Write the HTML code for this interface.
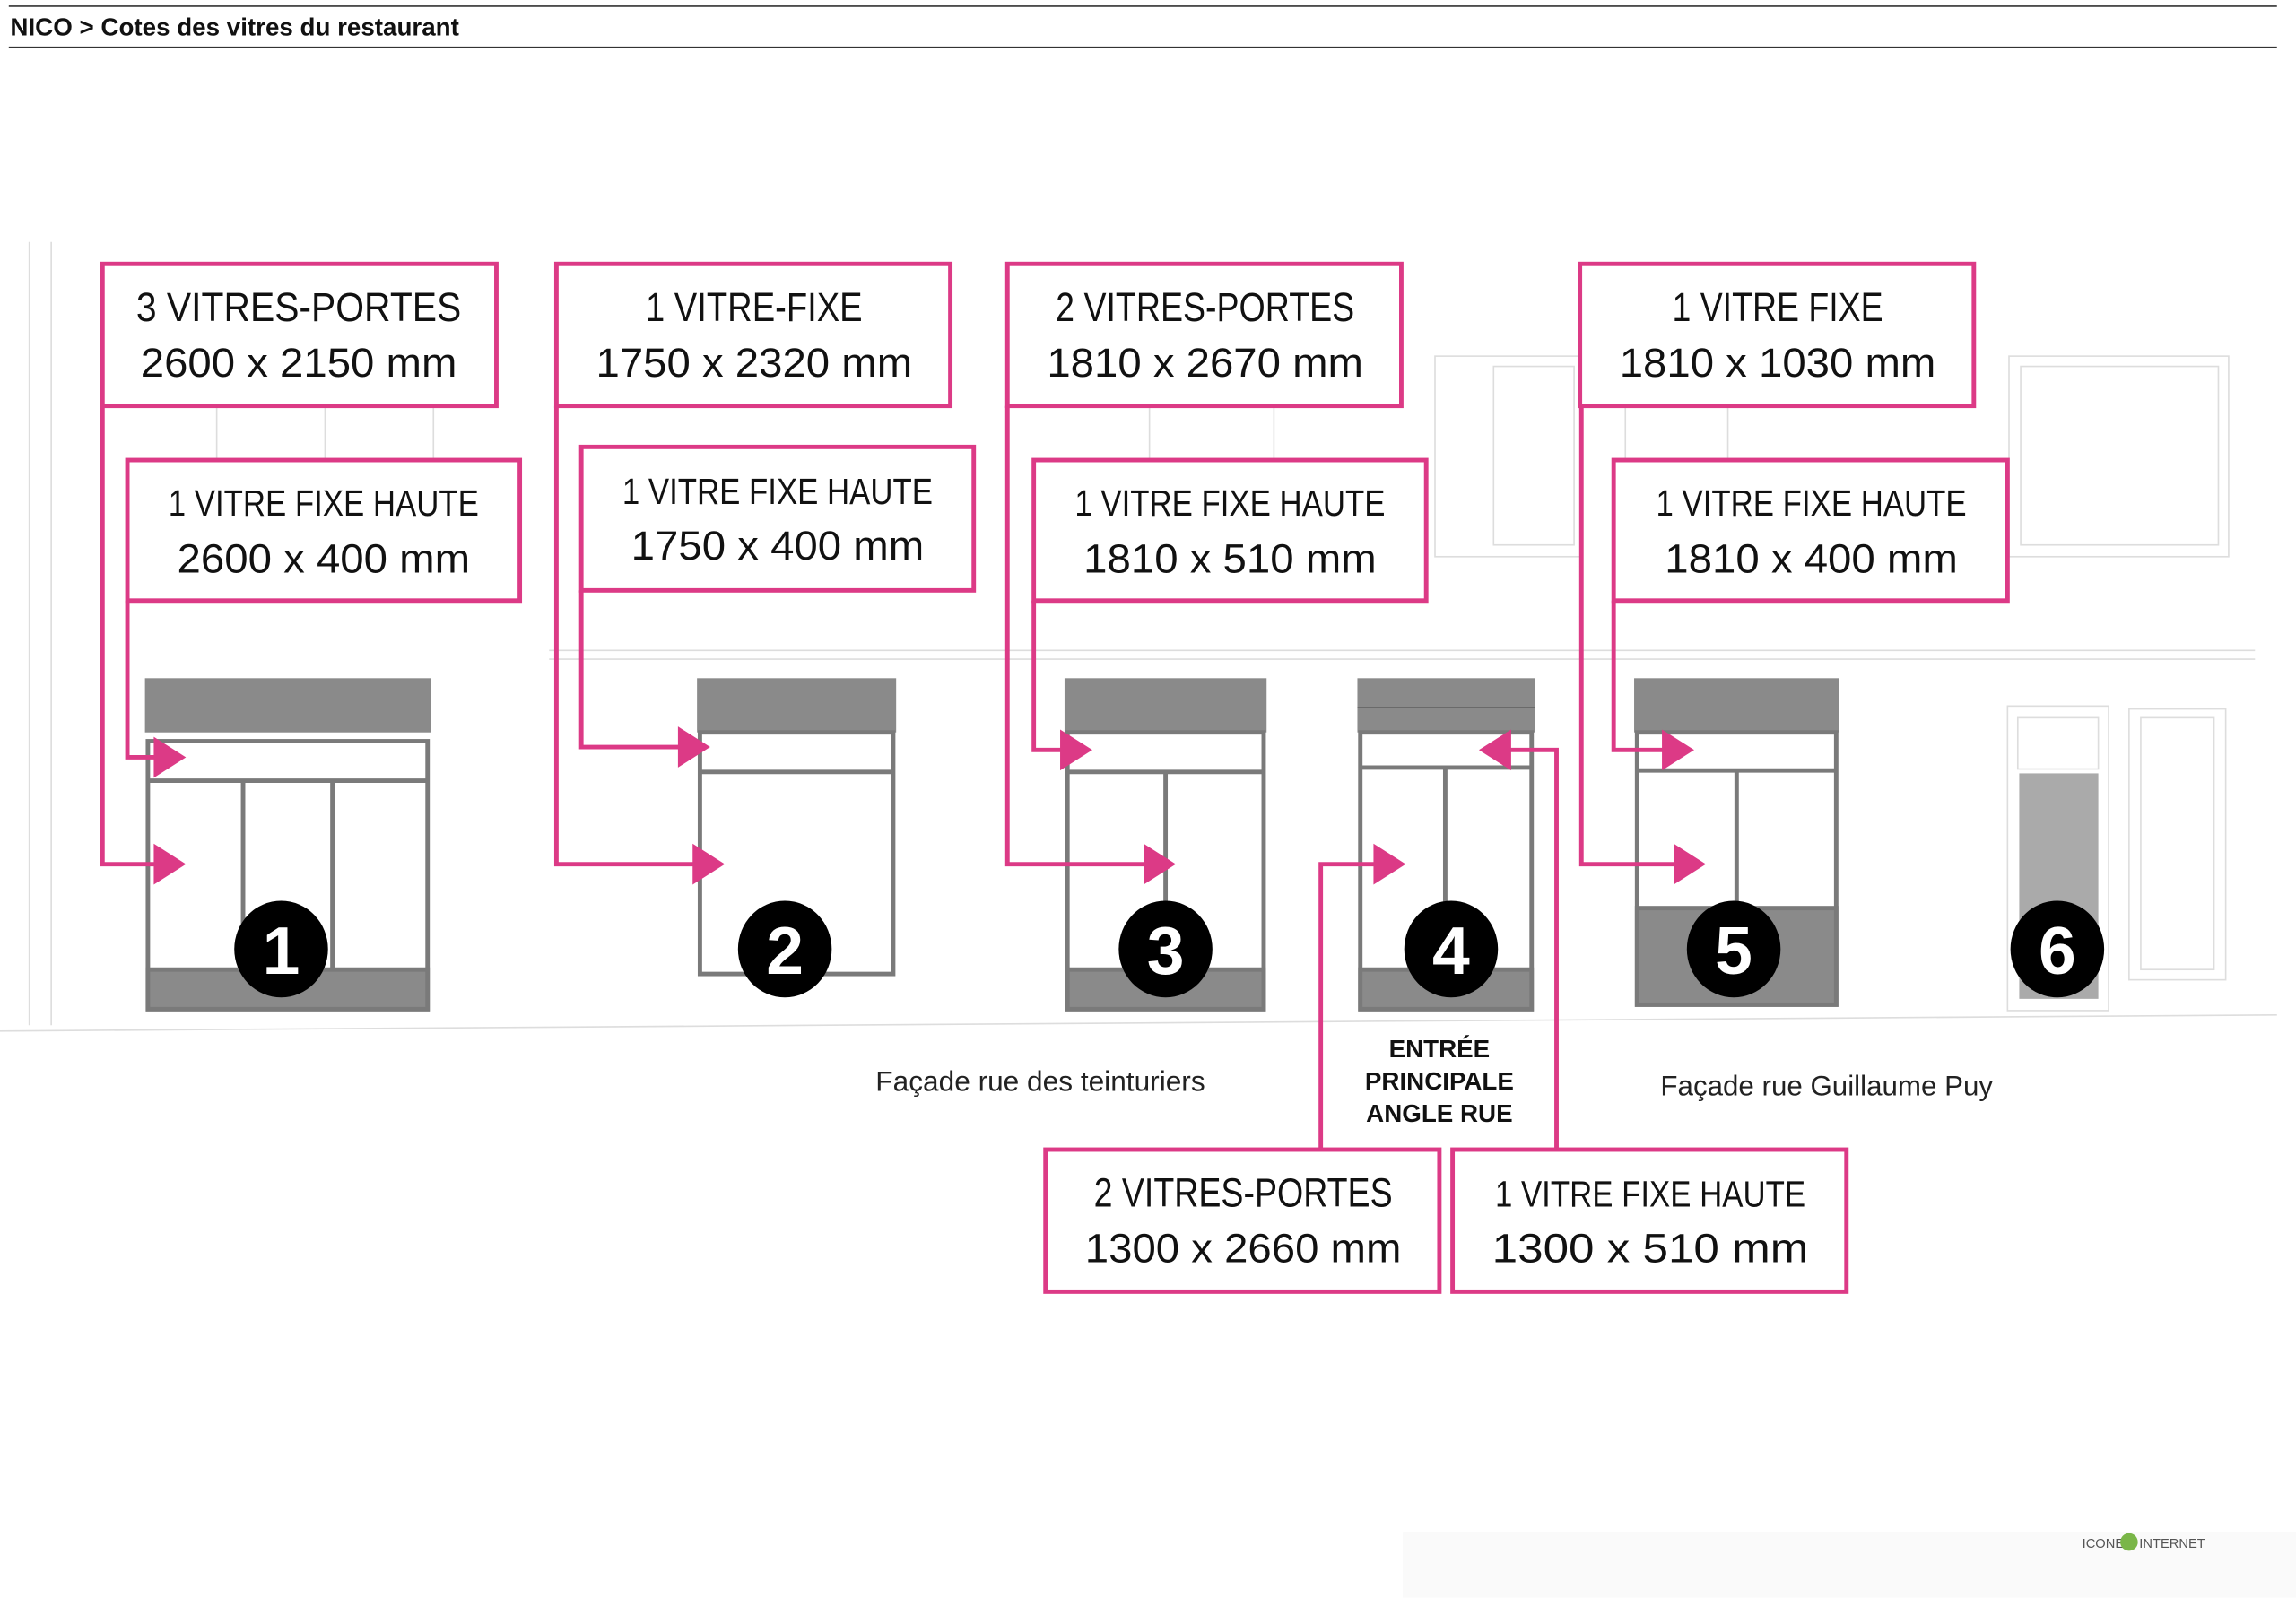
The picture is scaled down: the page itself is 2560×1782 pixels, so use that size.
<!DOCTYPE html>
<html><head><meta charset="utf-8"><style>html,body{margin:0;padding:0;background:#fff}svg{display:block}</style></head>
<body>
<svg width="2560" height="1782" viewBox="0 0 1568 1091" xmlns="http://www.w3.org/2000/svg" font-family="'Liberation Sans', sans-serif">
<rect width="1568" height="1091" fill="#fff"/>
<line x1="6" y1="4" x2="1555" y2="4" stroke="#333" stroke-width="1"/>
<line x1="6" y1="32" x2="1555" y2="32" stroke="#333" stroke-width="1"/>
<text x="7" y="24" font-size="17" font-weight="bold" fill="#111">NICO &gt; Cotes des vitres du restaurant</text>
<!-- faint background -->
<g stroke="#ddd" stroke-width="1" fill="none">
<line x1="35" y1="165" x2="35" y2="700"/><line x1="20" y1="165" x2="20" y2="700"/>
<line x1="0" y1="704" x2="1555" y2="693"/>
<line x1="375" y1="444" x2="1540" y2="444"/><line x1="375" y1="450" x2="1540" y2="450"/>
<rect x="1372" y="243" width="150" height="137"/><rect x="1380" y="250" width="135" height="122"/>
<rect x="980" y="243" width="100" height="137"/><rect x="1020" y="250" width="55" height="122"/>
<line x1="148" y1="277" x2="148" y2="314"/><line x1="222" y1="277" x2="222" y2="314"/><line x1="296" y1="277" x2="296" y2="314"/>
<line x1="785" y1="277" x2="785" y2="314"/><line x1="870" y1="277" x2="870" y2="314"/>
<line x1="1110" y1="277" x2="1110" y2="314"/><line x1="1180" y1="277" x2="1180" y2="314"/>
<rect x="1454" y="484" width="66" height="185"/><rect x="1462" y="490" width="50" height="172"/>
</g>
<!-- buildings -->
<g stroke="#7a7a7a" stroke-width="3">
<!-- 1 -->
<rect x="99" y="463" width="195" height="37" fill="#8a8a8a" stroke="none"/>
<rect x="101" y="506" width="191" height="183" fill="#fff"/>
<line x1="101" y1="533" x2="292" y2="533"/>
<line x1="166" y1="533" x2="166" y2="689"/><line x1="227" y1="533" x2="227" y2="689"/>
<rect x="101" y="662" width="191" height="27" fill="#8a8a8a"/>
<!-- 2 -->
<rect x="476" y="463" width="136" height="37" fill="#8a8a8a" stroke="none"/>
<rect x="478" y="500" width="132" height="165" fill="#fff"/>
<line x1="478" y1="527" x2="610" y2="527"/>
<!-- 3 -->
<rect x="727" y="463" width="138" height="37" fill="#8a8a8a" stroke="none"/>
<rect x="729" y="500" width="134" height="189" fill="#fff"/>
<line x1="729" y1="527" x2="863" y2="527"/><line x1="796" y1="527" x2="796" y2="689"/>
<rect x="729" y="662" width="134" height="27" fill="#8a8a8a"/>
<!-- 4 -->
<rect x="927" y="463" width="121" height="37" fill="#8a8a8a" stroke="none"/>
<line x1="927" y1="483" x2="1048" y2="483" stroke="#666" stroke-width="1"/>
<rect x="929" y="500" width="117" height="189" fill="#fff"/>
<line x1="929" y1="524" x2="1046" y2="524"/><line x1="987" y1="524" x2="987" y2="689"/>
<rect x="929" y="662" width="117" height="27" fill="#8a8a8a"/>
<!-- 5 -->
<rect x="1116" y="463" width="140" height="37" fill="#8a8a8a" stroke="none"/>
<rect x="1118" y="500" width="136" height="186" fill="#fff"/>
<line x1="1118" y1="526" x2="1254" y2="526"/><line x1="1186" y1="526" x2="1186" y2="620"/>
<rect x="1118" y="620" width="136" height="66" fill="#8a8a8a"/>
</g>
<rect x="1371" y="482" width="69" height="208" fill="#fff" stroke="#ddd" stroke-width="1"/>
<rect x="1378" y="490" width="55" height="35" fill="#fff" stroke="#ddd" stroke-width="1"/>
<rect x="1379" y="528" width="54" height="154" fill="#aaa"/>
<!-- number circles -->
<g font-weight="bold" font-size="46" fill="#fff" text-anchor="middle">
<ellipse cx="192" cy="648" rx="32" ry="33" fill="#000"/><text x="192" y="665">1</text>
<ellipse cx="536" cy="648" rx="32" ry="33" fill="#000"/><text x="536" y="665">2</text>
<ellipse cx="796" cy="648" rx="32" ry="33" fill="#000"/><text x="796" y="665">3</text>
<ellipse cx="991" cy="648" rx="32" ry="33" fill="#000"/><text x="991" y="665">4</text>
<ellipse cx="1184" cy="648" rx="32" ry="33" fill="#000"/><text x="1184" y="665">5</text>
<ellipse cx="1405" cy="648" rx="32" ry="33" fill="#000"/><text x="1405" y="665">6</text>
</g>
<!-- connectors -->
<g stroke="#dc3a86" stroke-width="3" fill="none">
<polyline points="70,277 70,590 108,590"/>
<polyline points="87,410 87,517 108,517"/>
<polyline points="380,277 380,590 476,590"/>
<polyline points="397,403 397,510 466,510"/>
<polyline points="688,277 688,590 784,590"/>
<polyline points="706,410 706,512 727,512"/>
<polyline points="1080,277 1080,590 1146,590"/>
<polyline points="1102,410 1102,512 1138,512"/>
<polyline points="902,785 902,590 941,590"/>
<polyline points="1063,785 1063,512 1029,512"/>
</g>
<g fill="#dc3a86">
<polygon points="105,576 127,590 105,604"/>
<polygon points="105,503 127,517 105,531"/>
<polygon points="473,576 495,590 473,604"/>
<polygon points="463,496 485,510 463,524"/>
<polygon points="781,576 803,590 781,604"/>
<polygon points="724,498 746,512 724,526"/>
<polygon points="1143,576 1165,590 1143,604"/>
<polygon points="1135,498 1157,512 1135,526"/>
<polygon points="938,576 960,590 938,604"/>
<polygon points="1032,498 1010,512 1032,526"/>
</g>
<!-- boxes -->
<g stroke="#dc3a86" stroke-width="3" fill="#fff">
<rect x="70" y="180" width="269" height="97"/>
<rect x="380" y="180" width="269" height="97"/>
<rect x="688" y="180" width="269" height="97"/>
<rect x="1079" y="180" width="269" height="97"/>
<rect x="87" y="314" width="268" height="96"/>
<rect x="397" y="305" width="268" height="98"/>
<rect x="706" y="314" width="268" height="96"/>
<rect x="1102" y="314" width="269" height="96"/>
<rect x="714" y="785" width="269" height="97"/>
<rect x="992" y="785" width="269" height="97"/>
</g>
<g font-size="28" fill="#111" text-anchor="middle">
<text x="204" y="219" textLength="222" lengthAdjust="spacingAndGlyphs">3 VITRES-PORTES</text>
<text x="204" y="257" textLength="216" lengthAdjust="spacingAndGlyphs">2600 x 2150 mm</text>
<text x="515" y="219" textLength="148" lengthAdjust="spacingAndGlyphs">1 VITRE-FIXE</text>
<text x="515" y="257" textLength="216" lengthAdjust="spacingAndGlyphs">1750 x 2320 mm</text>
<text x="823" y="219" textLength="204" lengthAdjust="spacingAndGlyphs">2 VITRES-PORTES</text>
<text x="823" y="257" textLength="216" lengthAdjust="spacingAndGlyphs">1810 x 2670 mm</text>
<text x="1214" y="219" textLength="144" lengthAdjust="spacingAndGlyphs">1 VITRE FIXE</text>
<text x="1214" y="257" textLength="216" lengthAdjust="spacingAndGlyphs">1810 x 1030 mm</text>
<text x="221" y="352" font-size="25" textLength="212" lengthAdjust="spacingAndGlyphs">1 VITRE FIXE HAUTE</text>
<text x="221" y="391" textLength="200" lengthAdjust="spacingAndGlyphs">2600 x 400 mm</text>
<text x="531" y="344" font-size="25" textLength="212" lengthAdjust="spacingAndGlyphs">1 VITRE FIXE HAUTE</text>
<text x="531" y="382" textLength="200" lengthAdjust="spacingAndGlyphs">1750 x 400 mm</text>
<text x="840" y="352" font-size="25" textLength="212" lengthAdjust="spacingAndGlyphs">1 VITRE FIXE HAUTE</text>
<text x="840" y="391" textLength="200" lengthAdjust="spacingAndGlyphs">1810 x 510 mm</text>
<text x="1237" y="352" font-size="25" textLength="212" lengthAdjust="spacingAndGlyphs">1 VITRE FIXE HAUTE</text>
<text x="1237" y="391" textLength="200" lengthAdjust="spacingAndGlyphs">1810 x 400 mm</text>
<text x="849" y="824" textLength="204" lengthAdjust="spacingAndGlyphs">2 VITRES-PORTES</text>
<text x="849" y="862" textLength="216" lengthAdjust="spacingAndGlyphs">1300 x 2660 mm</text>
<text x="1127" y="824" font-size="25" textLength="212" lengthAdjust="spacingAndGlyphs">1 VITRE FIXE HAUTE</text>
<text x="1127" y="862" textLength="216" lengthAdjust="spacingAndGlyphs">1300 x 510 mm</text>
</g>
<text x="598" y="745" font-size="19" fill="#222" textLength="225" lengthAdjust="spacingAndGlyphs">Façade rue des teinturiers</text>
<text x="1134" y="748" font-size="19" fill="#222" textLength="227" lengthAdjust="spacingAndGlyphs">Façade rue Guillaume Puy</text>
<g font-size="17" font-weight="bold" fill="#111" text-anchor="middle">
<text x="983" y="722">ENTRÉE</text><text x="983" y="744">PRINCIPALE</text><text x="983" y="766">ANGLE RUE</text>
</g>
<rect x="958" y="1046" width="610" height="45" fill="#fafafa"/>
<text x="1422" y="1057" font-size="9" fill="#555">ICONE</text>
<circle cx="1454" cy="1053" r="6" fill="#7ab648"/>
<text x="1461" y="1057" font-size="9" fill="#555">INTERNET</text>
</svg>
</body></html>
